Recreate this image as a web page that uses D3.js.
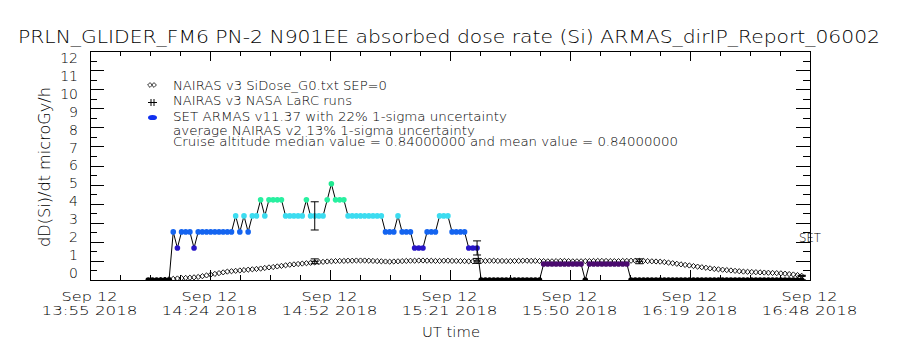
<!DOCTYPE html>
<html>
<head>
<meta charset="utf-8">
<script src="https://cdn.jsdelivr.net/npm/d3@7"></script>
<style>
body { margin: 0; background: #fff; }
text { font-family: "DejaVu Sans", "Liberation Sans", Arial, sans-serif; font-weight: 200; fill: #000; }
</style>
</head>
<body>
<script>
// time range of the plot (UT)
const startTime = new Date(2018, 8, 12, 13, 55);
const endTime = new Date(2018, 8, 12, 16, 48);

const tickDates = ['Sep 12', 'Sep 12', 'Sep 12', 'Sep 12', 'Sep 12', 'Sep 12', 'Sep 12'];
const tickTimes = ['13:55 2018', '14:24 2018', '14:52 2018', '15:21 2018', '15:50 2018', '16:19 2018', '16:48 2018'];
const yTicks = [0, 1, 2, 3, 4, 5, 6, 7, 8, 9, 10, 11, 12];

// SET ARMAS dose rate, one value per minute starting 14 min after 13:55
const setStartMin = 14;
const setValues = [
    0, 0, 0, 0, 0, 0,
    2.52, 1.68, 2.52, 2.52, 2.52, 1.68,
    2.52, 2.52, 2.52, 2.52, 2.52, 2.52, 2.52, 2.52, 2.52,
    3.36, 2.52, 3.36, 2.52, 3.36, 3.36, 4.2, 3.36,
    4.2, 4.2, 4.2, 4.2,
    3.36, 3.36, 3.36, 3.36, 3.36, 4.2,
    3.36, 3.36, 3.36, 3.36, 4.2, 5.04, 4.2, 4.2, 4.2,
    3.36, 3.36, 3.36, 3.36, 3.36, 3.36, 3.36, 3.36, 3.36,
    2.52, 2.52, 2.52, 3.36, 2.52, 2.52, 2.52,
    1.68, 1.68, 1.68, 2.52, 2.52, 2.52, 3.36, 3.36, 3.36,
    2.52, 2.52, 2.52, 2.52, 1.68, 1.68, 1.68,
    0, 0, 0, 0, 0, 0, 0, 0, 0, 0, 0, 0, 0, 0, 0,
    0.84, 0.84, 0.84, 0.84, 0.84, 0.84, 0.84, 0.84, 0.84, 0.84,
    0,
    0.84, 0.84, 0.84, 0.84, 0.84, 0.84, 0.84, 0.84, 0.84, 0.84,
    0, 0, 0, 0, 0, 0, 0, 0, 0, 0, 0, 0, 0, 0, 0, 0, 0, 0, 0, 0, 0,
    0, 0, 0, 0, 0, 0, 0, 0, 0, 0, 0, 0, 0, 0, 0, 0, 0, 0, 0, 0, 0
];
const setLevels = [0, 0.84, 1.68, 2.52, 3.36, 4.2, 5.04];
const setColors = ['#000000', '#4a0a6e', '#2816c8', '#1464f0', '#3cdcf0', '#28f0a0', '#20e890'];

// NAIRAS v3 SiDose_G0 (SEP=0), one value per minute starting 17 min after 13:55
const nairasStartMin = 17;
const nairasValues = [
    0.00, 0.02, 0.04, 0.06, 0.08, 0.10, 0.11, 0.12, 0.14, 0.16,
    0.20, 0.24, 0.28, 0.32, 0.36, 0.40, 0.44, 0.46, 0.48, 0.50,
    0.52, 0.54, 0.56, 0.58, 0.60, 0.63, 0.66, 0.68, 0.71, 0.74,
    0.77, 0.80, 0.82, 0.84, 0.86, 0.88, 0.90, 0.92, 0.94, 0.95,
    0.97, 0.98, 0.99, 1.00, 1.00, 1.01, 1.01, 1.02, 1.02, 1.02,
    1.01, 1.00, 0.99, 0.98, 0.97, 0.96, 0.97, 0.98, 0.99, 1.00,
    1.01, 1.01, 1.02, 1.02, 1.01, 1.01, 1.00, 1.00, 1.01, 1.01,
    1.00, 1.00, 0.99, 0.99, 0.98, 0.98, 0.99, 1.00, 1.00, 1.01,
    1.01, 1.00, 1.00, 0.99, 0.99, 1.00, 1.00, 1.01, 1.01, 1.00,
    1.00, 0.99, 0.99, 0.98, 0.98, 0.99, 1.00, 1.00, 0.99, 0.98,
    0.98, 0.98, 0.99, 0.99, 1.00, 1.00, 1.00, 1.00, 0.99, 0.99,
    0.99, 1.00, 1.00, 1.01, 1.01, 1.00, 1.00, 0.99, 0.98, 0.97,
    0.96, 0.94, 0.91, 0.88, 0.85, 0.82, 0.79, 0.76, 0.73, 0.70,
    0.67, 0.64, 0.61, 0.58, 0.56, 0.54, 0.52, 0.50, 0.48, 0.46,
    0.44, 0.43, 0.42, 0.41, 0.40, 0.39, 0.38, 0.37, 0.36, 0.35,
    0.33, 0.31, 0.29, 0.26, 0.22
];

// NAIRAS v3 NASA LaRC runs
const larcMinutes = [54, 93, 132, 171];
const larcValues = [0.98, 1.0, 0.98, 0.22];
const larcSigma = 0.13;
const setSigma = 0.22;

const legendLabels = [
    'NAIRAS v3 SiDose_G0.txt SEP=0',
    'NAIRAS v3 NASA LaRC runs',
    'SET ARMAS v11.37 with 22% 1-sigma uncertainty',
    'average NAIRAS v2 13% 1-sigma uncertainty',
    'Cruise altitude median value = 0.84000000 and mean value = 0.84000000'
];

const width = 900;
const height = 350;
const plotLeft = 90, plotRight = 810, plotTop = 51, plotBottom = 280;
const fontStack = '"DejaVu Sans", "Liberation Sans", Arial, sans-serif';

const minute = (m) => new Date(startTime.getTime() + m * 60000);

const x = d3.scaleTime()
    .domain([startTime, endTime])
    .range([plotLeft, plotRight]);

const y = d3.scaleLinear()
    .domain([0, 12])
    .range([plotBottom, plotTop]);

const color = d3.scaleOrdinal()
    .domain(setLevels)
    .range(setColors);

const span = endTime - startTime;
const majorTicks = tickTimes.map((d, i) => new Date(startTime.getTime() + i * span / 6));
const minorTicks = d3.range(25).map((i) => new Date(startTime.getTime() + i * span / 24));
const halfTicks = yTicks.slice(1).map((d) => d - 0.5);

const svg = d3.select('body')
    .append('svg')
    .attr('width', width)
    .attr('height', height);

svg.append('defs').append('clipPath')
    .attr('id', 'plotclip')
    .append('rect')
    .attr('x', plotLeft)
    .attr('y', plotTop)
    .attr('width', plotRight - plotLeft)
    .attr('height', plotBottom - plotTop);

// title
svg.append('text')
    .attr('x', 18)
    .attr('y', 43)
    .attr('font-size', 17)
    .attr('textLength', 862)
    .attr('lengthAdjust', 'spacingAndGlyphs')
    .text('PRLN_GLIDER_FM6 PN-2 N901EE absorbed dose rate (Si) ARMAS_dirIP_Report_06002');

const plot = svg.append('g').attr('clip-path', 'url(#plotclip)');

// NAIRAS diamonds
const diamond = (s) => `M0,${-s}L${s},0L0,${s}L${-s},0Z`;
plot.append('g')
    .selectAll('path')
    .data(nairasValues)
    .enter()
        .append('path')
        .attr('d', diamond(2.6))
        .attr('transform', (d, i) => `translate(${x(minute(nairasStartMin + i))},${y(d)})`)
        .attr('fill', 'none')
        .attr('stroke', '#000')
        .attr('stroke-width', 0.9);

// SET line + dots
const setLine = d3.line()
    .x((d, i) => x(minute(setStartMin + i)))
    .y((d) => y(d));

plot.append('path')
    .datum(setValues)
    .attr('d', setLine)
    .attr('fill', 'none')
    .attr('stroke', '#000')
    .attr('stroke-width', 1);

plot.append('g')
    .selectAll('circle')
    .data(setValues)
    .enter()
        .append('circle')
        .attr('cx', (d, i) => x(minute(setStartMin + i)))
        .attr('cy', (d) => y(d))
        .attr('r', 2.8)
        .attr('fill', (d) => color(d));

// error bars (SET at LaRC times, and LaRC runs)
const errBar = (g, cx, lo, hi, w) => {
    g.append('line').attr('x1', cx).attr('x2', cx).attr('y1', y(lo)).attr('y2', y(hi));
    g.append('line').attr('x1', cx - w).attr('x2', cx + w).attr('y1', y(lo)).attr('y2', y(lo));
    g.append('line').attr('x1', cx - w).attr('x2', cx + w).attr('y1', y(hi)).attr('y2', y(hi));
};

const bars = plot.append('g')
    .attr('stroke', '#000')
    .attr('stroke-width', 1);

larcMinutes.forEach((m, i) => {
    const cx = x(minute(m));
    const sv = setValues[m - setStartMin];
    errBar(bars, cx, sv * (1 - setSigma), sv * (1 + setSigma), 4);
    const lv = larcValues[i];
    errBar(bars, cx, lv * (1 - larcSigma), lv * (1 + larcSigma), 4);
    bars.append('line')
        .attr('x1', cx - 4).attr('x2', cx + 4)
        .attr('y1', y(lv)).attr('y2', y(lv));
});

// axes
const axes = svg.append('g')
    .attr('shape-rendering', 'crispEdges');

axes.append('g')
    .attr('transform', `translate(${plotLeft},0)`)
    .call(d3.axisLeft(y).tickValues(yTicks).tickSize(-14).tickSizeOuter(0).tickPadding(12))
    .call((g) => g.selectAll('text')
        .attr('font-size', 14)
        .attr('font-family', fontStack)
        .attr('font-weight', 200)
        .attr('dy', (d) => `${0.32 + (d - 6) * 0.085}em`));

axes.append('g')
    .attr('transform', `translate(${plotLeft},0)`)
    .call(d3.axisLeft(y).tickValues(halfTicks).tickSize(-7).tickSizeOuter(0).tickFormat(''));

axes.append('g')
    .attr('transform', `translate(${plotRight},0)`)
    .call(d3.axisRight(y).tickValues(yTicks).tickSize(-14).tickSizeOuter(0).tickFormat(''));

axes.append('g')
    .attr('transform', `translate(${plotRight},0)`)
    .call(d3.axisRight(y).tickValues(halfTicks).tickSize(-7).tickSizeOuter(0).tickFormat(''));

axes.append('g')
    .attr('transform', `translate(0,${plotTop})`)
    .call(d3.axisTop(x).tickValues(majorTicks).tickSize(-10).tickSizeOuter(0).tickFormat(''));

axes.append('g')
    .attr('transform', `translate(0,${plotTop})`)
    .call(d3.axisTop(x).tickValues(minorTicks).tickSize(-5).tickSizeOuter(0).tickFormat(''));

axes.append('g')
    .attr('transform', `translate(0,${plotBottom})`)
    .call(d3.axisBottom(x).tickValues(minorTicks).tickSize(-5).tickSizeOuter(0).tickFormat(''));

const xAxis = axes.append('g')
    .attr('transform', `translate(0,${plotBottom})`)
    .call(d3.axisBottom(x).tickValues(majorTicks).tickSize(-10).tickSizeOuter(0).tickFormat(''));

xAxis.selectAll('.tick')
    .each(function (d, i) {
        const t = d3.select(this).append('text')
            .attr('fill', '#000')
            .attr('font-size', 13)
            .attr('font-family', fontStack)
            .attr('font-weight', 200)
            .attr('text-anchor', 'middle');
        t.append('tspan').attr('x', -1).attr('y', 21)
            .attr('textLength', 56).attr('lengthAdjust', 'spacingAndGlyphs')
            .text(tickDates[i]);
        t.append('tspan').attr('x', -1).attr('y', 35)
            .attr('textLength', 96).attr('lengthAdjust', 'spacingAndGlyphs')
            .text(tickTimes[i]);
    });

axes.selectAll('.domain').attr('stroke', '#000');
axes.selectAll('.tick line').attr('stroke', '#000');

// axis titles
svg.append('text')
    .attr('x', 451)
    .attr('y', 337)
    .attr('font-size', 14)
    .attr('text-anchor', 'middle')
    .attr('textLength', 58)
    .attr('lengthAdjust', 'spacingAndGlyphs')
    .text('UT time');

svg.append('text')
    .attr('transform', 'translate(50,167) rotate(-90)')
    .attr('font-size', 15)
    .attr('text-anchor', 'middle')
    .attr('textLength', 160)
    .attr('lengthAdjust', 'spacingAndGlyphs')
    .text('dD(Si)/dt microGy/h');

svg.append('text')
    .attr('x', plotRight - 11)
    .attr('y', 242)
    .attr('font-size', 12)
    .attr('textLength', 22)
    .attr('lengthAdjust', 'spacingAndGlyphs')
    .text('SET');

// legend
const legend = svg.append('g');
const legendY = [90, 105, 121, 135, 146];
const legendW = [214, 179, 334, 302, 505];

legend.selectAll('text')
    .data(legendLabels)
    .enter()
        .append('text')
        .attr('x', 173)
        .attr('y', (d, i) => legendY[i])
        .attr('font-size', 12)
        .attr('textLength', (d, i) => legendW[i])
        .attr('lengthAdjust', 'spacingAndGlyphs')
        .text((d) => d);

[150, 154].forEach((cx) => {
    legend.append('path')
        .attr('d', diamond(2.4))
        .attr('transform', `translate(${cx},85)`)
        .attr('fill', 'none')
        .attr('stroke', '#000')
        .attr('stroke-width', 0.8);
});

legend.append('g')
    .attr('stroke', '#000')
    .attr('stroke-width', 1)
    .call((g) => {
        g.append('line').attr('x1', 148).attr('x2', 157).attr('y1', 102.5).attr('y2', 102.5);
        g.append('line').attr('x1', 151).attr('x2', 151).attr('y1', 99).attr('y2', 106);
        g.append('line').attr('x1', 154).attr('x2', 154).attr('y1', 99).attr('y2', 106);
    });

legend.append('ellipse')
    .attr('cx', 152.5)
    .attr('cy', 117.5)
    .attr('rx', 4.5)
    .attr('ry', 2.6)
    .attr('fill', '#1030f0');
</script>
</body>
</html>
